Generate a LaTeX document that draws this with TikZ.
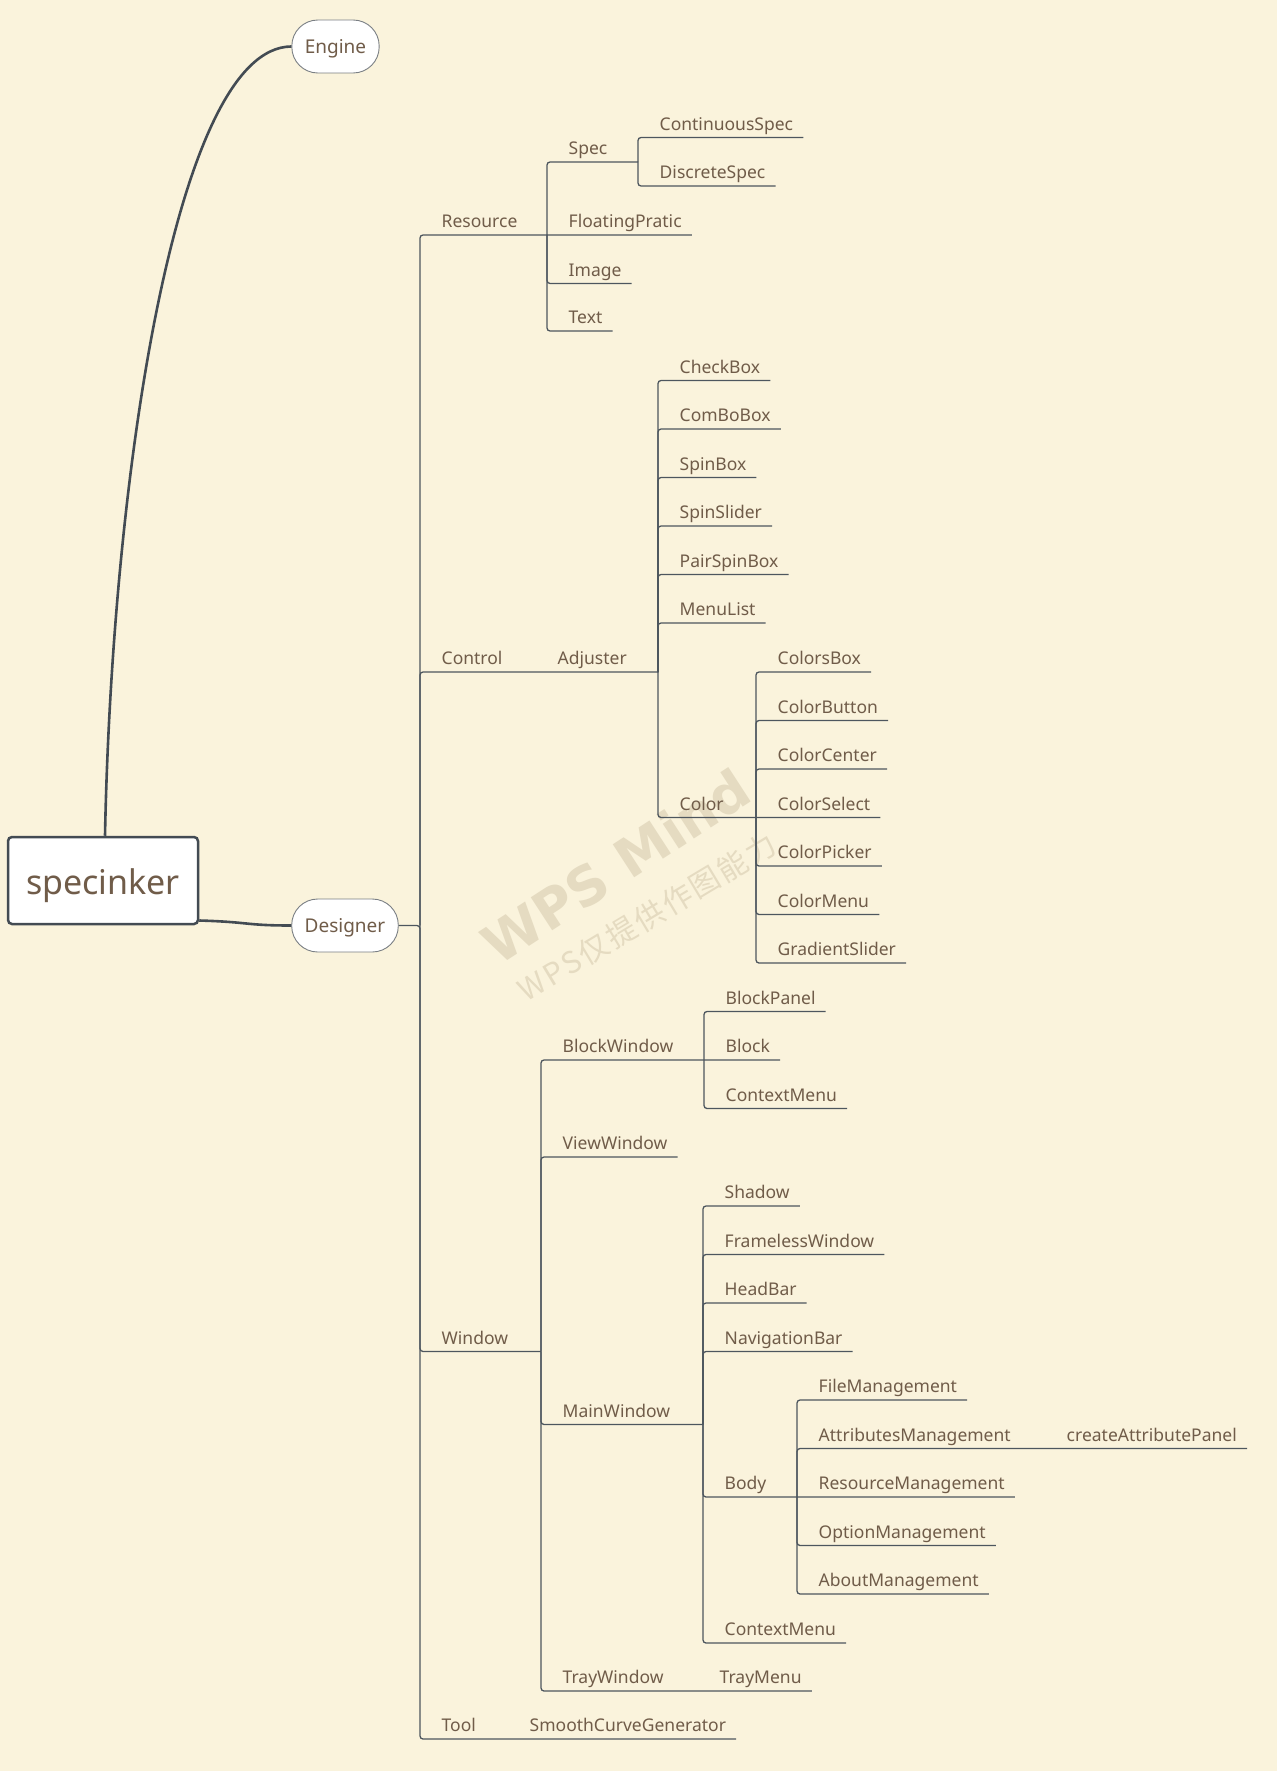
\documentclass[tikz,border=0pt]{standalone}
\usepackage{fontspec}
\setmainfont{Noto Sans}
\newfontfamily\cjkfont[LetterSpace=8]{Noto Sans CJK SC}
\newfontfamily\markfont{DejaVu Sans}

\definecolor{paper}{HTML}{FAF3DC}
\definecolor{ink}{HTML}{705C49}
\definecolor{wire}{HTML}{4D565E}
\definecolor{rootline}{HTML}{434B53}
\definecolor{edge}{HTML}{7A7F84}
\definecolor{mark}{HTML}{E5DBC1}

\tikzset{
	leaf/.style={anchor=south west, inner xsep=10pt, inner ysep=3pt, text depth=4pt, text=ink, font=\fontsize{17.5}{21}\selectfont, execute at begin node={\hspace*{11.5pt}}},
	branch/.style={draw=wire, line width=1.3pt, rounded corners=3pt},
	topic/.style={draw=edge, line width=0.9pt, fill=white, rounded corners=26pt, inner xsep=13pt, minimum height=53pt, text height=13.5pt, text depth=0pt, text=ink, font=\fontsize{19}{23}\selectfont},
	rootbox/.style={draw=rootline, line width=2.5pt, fill=white, rounded corners=4pt, minimum width=190pt, minimum height=87pt, text height=27pt, text depth=0pt, text=ink, font=\fontsize{34}{40}\selectfont},
	curve/.style={draw=rootline, line width=2.6pt}
}

\begin{document}
\begin{tikzpicture}[x=1pt, y=-1pt]
		\fill[paper] (0,0) rectangle (1277,1771);
		\useasboundingbox (0,0) rectangle (1277,1771);

		\node[rotate=33, text=mark, font=\markfont\bfseries\fontsize{54}{54}\selectfont] (wmbig) at (616,866) {WPS Mind};
		\node[rotate=31, text=mark, font=\cjkfont\fontsize{30}{30}\selectfont] (wmsmall) at (647,917) {WPS仅提供作图能力};

		\node[rootbox] (root) at (103,880.5) {specinker};
		\node[topic] (eng) at (335.5,46.5) {Engine};
		\node[topic] (des) at (345,925.5) {Designer};
		\draw[curve] ([xshift=2pt]root.north) .. controls (112,480) and (175,47) .. (eng.west);
		\draw[curve] ([yshift=-40pt]root.east) .. controls (250,922) and (245,925.5) .. (des.west);

		\coordinate (mj) at (420,925.5);
		\coordinate (resj) at (547,235);
		\coordinate (specj) at (638,162);
		\coordinate (adjj) at (658,672);
		\coordinate (colj) at (756,817.5);
		\coordinate (winj) at (541,1351.5);
		\coordinate (bwj) at (704,1060);
		\coordinate (mwj) at (703,1424.5);
		\coordinate (bodyj) at (797,1497);

		\node[leaf] (res) at (420,235) {Resource};
		\node[leaf] (ctl) at (420,672) {Control};
		\node[leaf] (win) at (420,1351.5) {Window};
		\node[leaf] (tool) at (420,1739) {Tool};

		\node[leaf] (spec) at (547,162) {Spec};
		\node[leaf] (flo) at (547,235) {FloatingPratic};
		\node[leaf] (img) at (547,283.5) {Image};
		\node[leaf] (txt) at (547,331) {Text};
		\node[leaf] (cspec) at (638,137.5) {ContinuousSpec};
		\node[leaf] (dspec) at (638,186) {DiscreteSpec};

		\node[leaf] (adj) at (536,672) {Adjuster};
		\node[leaf] (chk) at (658,380.5) {CheckBox};
		\node[leaf] (cmb) at (658,429) {ComBoBox};
		\node[leaf] (spb) at (658,477.5) {SpinBox};
		\node[leaf] (sps) at (658,526) {SpinSlider};
		\node[leaf] (psb) at (658,574.5) {PairSpinBox};
		\node[leaf] (mnl) at (658,623) {MenuList};
		\node[leaf] (col) at (658,817.5) {Color};
		\node[leaf] (cbox) at (756,672) {ColorsBox};
		\node[leaf] (cbtn) at (756,720.5) {ColorButton};
		\node[leaf] (ccen) at (756,769) {ColorCenter};
		\node[leaf] (csel) at (756,817.5) {ColorSelect};
		\node[leaf] (cpick) at (756,866) {ColorPicker};
		\node[leaf] (cmenu) at (756,914.5) {ColorMenu};
		\node[leaf] (grad) at (756,963) {GradientSlider};

		\node[leaf] (bw) at (541,1060) {BlockWindow};
		\node[leaf] (vw) at (541,1157) {ViewWindow};
		\node[leaf] (mw) at (541,1424.5) {MainWindow};
		\node[leaf] (tw) at (541,1691) {TrayWindow};
		\node[leaf] (bpan) at (704,1011.5) {BlockPanel};
		\node[leaf] (blk) at (704,1060) {Block};
		\node[leaf] (bctx) at (704,1108.5) {ContextMenu};
		\node[leaf] (shd) at (703,1206) {Shadow};
		\node[leaf] (flw) at (703,1254.5) {FramelessWindow};
		\node[leaf] (hbar) at (703,1303) {HeadBar};
		\node[leaf] (nbar) at (703,1351.5) {NavigationBar};
		\node[leaf] (body) at (703,1497) {Body};
		\node[leaf] (mctx) at (703,1643) {ContextMenu};
		\node[leaf] (fmg) at (797,1400) {FileManagement};
		\node[leaf] (amg) at (797,1448.5) {AttributesManagement};
		\node[leaf] (rmg) at (797,1497) {ResourceManagement};
		\node[leaf] (omg) at (797,1545.5) {OptionManagement};
		\node[leaf] (abmg) at (797,1594) {AboutManagement};
		\node[leaf] (cap) at (1045,1448.5) {createAttributePanel};
		\node[leaf] (tmenu) at (698,1691) {TrayMenu};
		\node[leaf] (scg) at (508,1739) {SmoothCurveGenerator};

		\draw[branch] (des.east) -- (mj) -- (tool.south west) -- (tool.south east) -- (scg.south west) -- (scg.south east);
		\draw[branch] (mj) -- (res.south west) -- (res.south east) -- (resj) -- (flo.south east);
		\draw[branch] (mj) -- (ctl.south west) -- (ctl.south east) -- (adj.south west) -- (adj.south east) -- (adjj);
		\draw[branch] (mj) -- (win.south west) -- (win.south east) -- (winj);

		\draw[branch] (resj) -- (spec.south west) -- (spec.south east) -- (specj);
		\draw[branch] (resj) -- (img.south west) -- (img.south east);
		\draw[branch] (resj) -- (txt.south west) -- (txt.south east);
		\draw[branch] (specj) -- (cspec.south west) -- (cspec.south east);
		\draw[branch] (specj) -- (dspec.south west) -- (dspec.south east);

		\draw[branch] (adjj) -- (chk.south west) -- (chk.south east);
		\draw[branch] (adjj) -- (cmb.south west) -- (cmb.south east);
		\draw[branch] (adjj) -- (spb.south west) -- (spb.south east);
		\draw[branch] (adjj) -- (sps.south west) -- (sps.south east);
		\draw[branch] (adjj) -- (psb.south west) -- (psb.south east);
		\draw[branch] (adjj) -- (mnl.south west) -- (mnl.south east);
		\draw[branch] (adjj) -- (col.south west) -- (col.south east) -- (colj) -- (csel.south east);
		\draw[branch] (colj) -- (cbox.south west) -- (cbox.south east);
		\draw[branch] (colj) -- (cbtn.south west) -- (cbtn.south east);
		\draw[branch] (colj) -- (ccen.south west) -- (ccen.south east);
		\draw[branch] (colj) -- (cpick.south west) -- (cpick.south east);
		\draw[branch] (colj) -- (cmenu.south west) -- (cmenu.south east);
		\draw[branch] (colj) -- (grad.south west) -- (grad.south east);

		\draw[branch] (winj) -- (bw.south west) -- (bw.south east) -- (bwj) -- (blk.south east);
		\draw[branch] (winj) -- (vw.south west) -- (vw.south east);
		\draw[branch] (winj) -- (mw.south west) -- (mw.south east) -- (mwj);
		\draw[branch] (winj) -- (tw.south west) -- (tw.south east) -- (tmenu.south west) -- (tmenu.south east);
		\draw[branch] (bwj) -- (bpan.south west) -- (bpan.south east);
		\draw[branch] (bwj) -- (bctx.south west) -- (bctx.south east);
		\draw[branch] (mwj) -- (shd.south west) -- (shd.south east);
		\draw[branch] (mwj) -- (flw.south west) -- (flw.south east);
		\draw[branch] (mwj) -- (hbar.south west) -- (hbar.south east);
		\draw[branch] (mwj) -- (nbar.south west) -- (nbar.south east);
		\draw[branch] (mwj) -- (body.south west) -- (body.south east) -- (bodyj) -- (rmg.south east);
		\draw[branch] (mwj) -- (mctx.south west) -- (mctx.south east);
		\draw[branch] (bodyj) -- (fmg.south west) -- (fmg.south east);
		\draw[branch] (bodyj) -- (amg.south west) -- (amg.south east) -- (cap.south west) -- (cap.south east);
		\draw[branch] (bodyj) -- (omg.south west) -- (omg.south east);
		\draw[branch] (bodyj) -- (abmg.south west) -- (abmg.south east);
	\end{tikzpicture}
\end{document}
